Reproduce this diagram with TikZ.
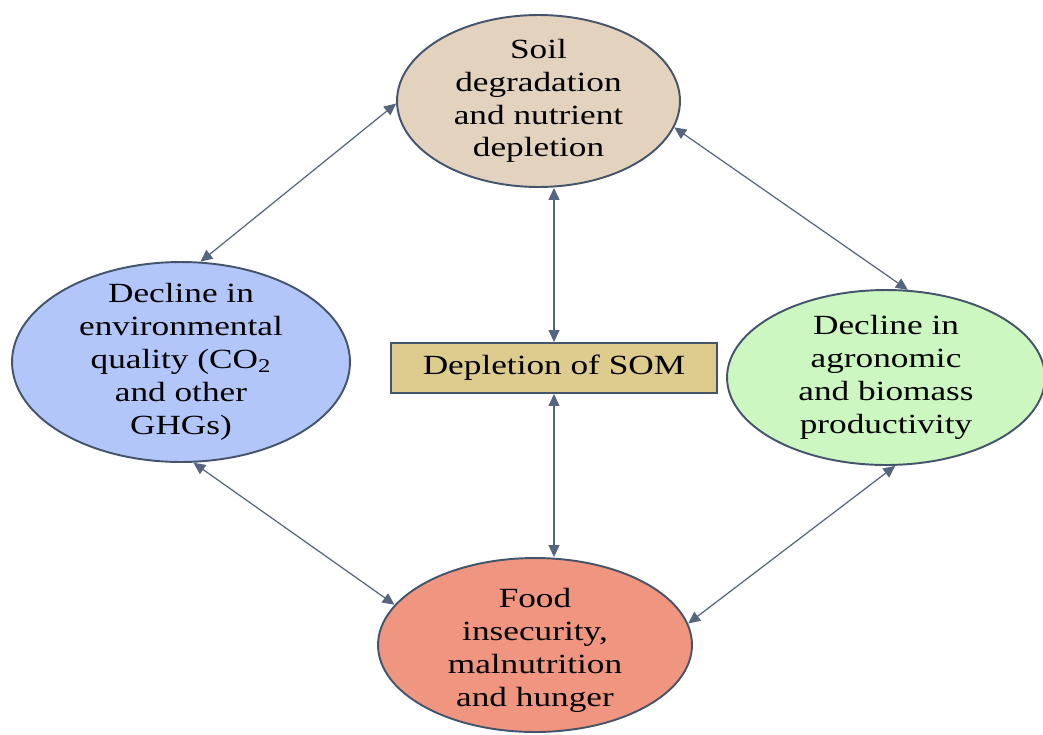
\documentclass[tikz,border=0pt]{standalone}
\usepackage{fontspec}
\setmainfont{Liberation Serif}[FakeStretch=1.27]
\usepackage{tikz}
\usetikzlibrary{positioning,arrows.meta,shapes.geometric}
\usepackage{xcolor}
\definecolor{edgec}{HTML}{44546A}
\definecolor{arrowc}{HTML}{56657F}
\definecolor{soilc}{HTML}{E2D2BE}
\definecolor{envc}{HTML}{B3C6FA}
\definecolor{cropc}{HTML}{CCF7C0}
\definecolor{foodc}{HTML}{F09680}
\definecolor{somc}{HTML}{DECB8E}

\begin{document}
\begin{tikzpicture}[x=0.02cm,y=-0.02cm,>={Triangle[length=2.4mm,width=2.2mm]},
  every node/.style={font=\fontsize{15.8}{18.7}\selectfont},
  blob/.style={ellipse,draw=edgec,line width=1.1pt,inner sep=0pt},
  link/.style={<->,draw=arrowc,line width=0.7pt}]
\useasboundingbox (0,0) rectangle (1043,734);
\node[blob,fill=soilc,minimum width=5.66cm,minimum height=3.44cm] (soil) at (538.5,101) {};
\node[align=center] (soil-txt) at (soil.center) {Soil\\degradation\\and nutrient\\depletion};
\node[blob,fill=envc,minimum width=6.76cm,minimum height=4cm] (env) at (181,362) {};
\node[align=center] (env-txt) at (env.center) {Decline in\\environmental\\quality (CO\textsubscript{2}\\and other\\GHGs)};
\node[blob,fill=cropc,minimum width=6.36cm,minimum height=3.5cm] (crop) at (886,377.5) {};
\node[align=center] (crop-txt) at (crop.center) {Decline in\\agronomic\\and biomass\\productivity};
\node[blob,fill=foodc,minimum width=6.28cm,minimum height=3.48cm] (food) at (535,645) {};
\node[align=center] (food-txt) at ([yshift=-3]food.center) {Food\\insecurity,\\malnutrition\\and hunger};
\node[draw=edgec,fill=somc,line width=1.1pt,inner sep=0pt,minimum width=6.52cm,minimum height=1cm] (som) at (554,368) {Depletion of SOM};
\draw[link] (soil.181) -- (env.79);
\draw[link] (soil.-11) -- (crop.76);
\draw[link] (som.north) -- (som.north |- soil.south);
\draw[link] (som.south) -- (som.south |- food.north);
\draw[link] (env.-83) -- (food.164);
\draw[link] (food.8) -- (crop.-84);
\end{tikzpicture}
\end{document}
